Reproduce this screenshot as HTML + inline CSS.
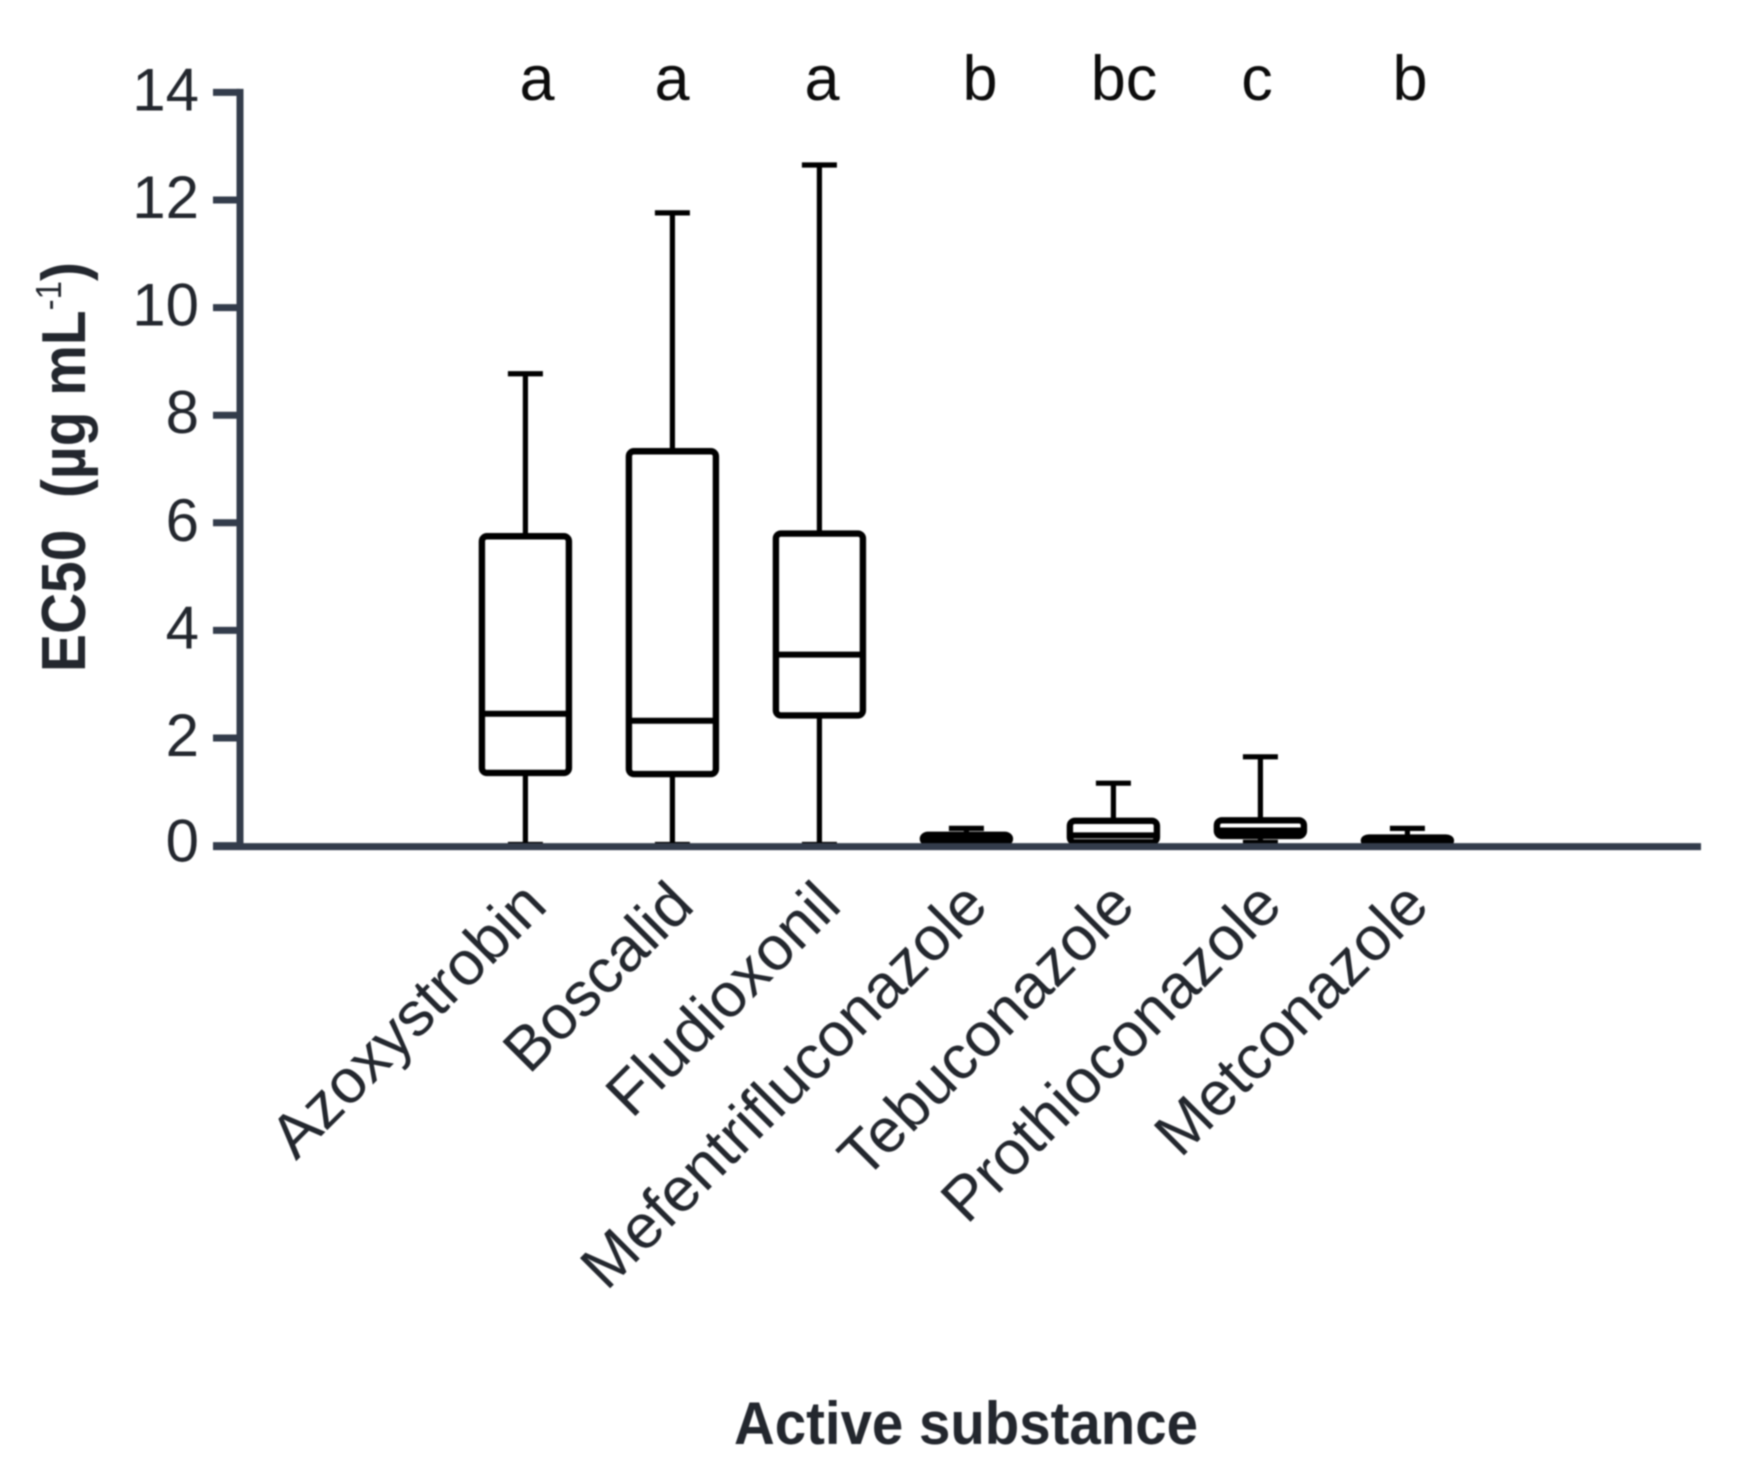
<!DOCTYPE html>
<html lang="en">
<head>
<meta charset="utf-8">
<title>EC50 by active substance</title>
<style>
html,body{margin:0;padding:0;background:#fff;width:1751px;height:1483px;overflow:hidden}
svg{display:block;filter:blur(.7px)}
text{font-family:"Liberation Sans",sans-serif}
</style>
</head>
<body>
<svg id="chart" xmlns="http://www.w3.org/2000/svg" width="1751" height="1483" viewBox="0 0 1751 1483">
  <rect width="1751" height="1483" fill="#fff"/>
  <g id="boxes"></g>
  <g id="axes"></g>
  <g id="labels"></g>
  <g font-size="63" fill="#0c0c0c" text-anchor="middle">
    <text x="537" y="100">a</text>
    <text x="672" y="100">a</text>
    <text x="822" y="100">a</text>
    <text x="980" y="100">b</text>
    <text x="1124" y="100">bc</text>
    <text x="1257" y="100">c</text>
    <text x="1410" y="100">b</text>
  </g>
  <text transform="translate(85,672) rotate(-90)" font-size="62" font-weight="700" fill="#23272e" textLength="410" lengthAdjust="spacingAndGlyphs">EC50&#160;&#160;(µg mL<tspan font-size="36" font-weight="400" dy="-24">-1</tspan><tspan dy="24">)</tspan></text>
  <text x="734" y="1444" font-size="60" font-weight="700" fill="#23272e" textLength="464" lengthAdjust="spacingAndGlyphs">Active substance</text>
</svg>
<script>
const categories = ["Azoxystrobin","Boscalid","Fludioxonil","Mefentrifluconazole","Tebuconazole","Prothioconazole","Metconazole"];
const whiskerLow = [0.02,0.02,0.02,0.02,0.03,0.06,0.01];
const quartile1 = [1.35,1.33,2.42,0.05,0.06,0.18,0.03];
const medians = [2.45,2.32,3.55,0.10,0.19,0.28,0.08];
const quartile3 = [5.75,7.33,5.80,0.20,0.46,0.47,0.15];
const whiskerHigh = [8.77,11.76,12.65,0.32,1.16,1.65,0.32];
const yTicks = [0,2,4,6,8,10,12,14];

const NS = 'http://www.w3.org/2000/svg';
function y(v){ return 845.6 - v * (845.6 - 92.4) / 14; }
function x(i){ return 525.4 + i * 147; }
function make(tag, attrs, parent){
  const el = document.createElementNS(NS, tag);
  for (const k in attrs) el.setAttribute(k, attrs[k]);
  parent.appendChild(el);
  return el;
}
const boxes = document.getElementById('boxes');
const axes = document.getElementById('axes');
const labels = document.getElementById('labels');

categories.forEach(function(name, i){
  const cx = x(i);
  const g = make('g', {fill:'none', stroke:'#000'}, boxes);
  
  

  const upper = make('line', {x1:cx, x2:cx, y1:y(quartile3[i]), y2:y(whiskerHigh[i]), 'stroke-width':5.2}, g);
  
  

  const lower = make('line', {x1:cx, x2:cx, y1:y(quartile1[i]), y2:y(whiskerLow[i]), 'stroke-width':5.2}, g);
  
  

  const capHigh = make('line', {x1:cx-17.5, x2:cx+17.5, y1:y(whiskerHigh[i]), y2:y(whiskerHigh[i]), 'stroke-width':5.2}, g);
  
  

  const capLow = make('line', {x1:cx-17.5, x2:cx+17.5, y1:y(whiskerLow[i]), y2:y(whiskerLow[i]), 'stroke-width':5.2}, g);
  
  

  const box = make('rect', {x:cx-43.5, width:87, y:y(quartile3[i]), height:y(quartile1[i])-y(quartile3[i]), rx:5, ry:5, fill:'#fff', 'stroke-width':6.4}, g);
  
  

  const med = make('line', {x1:cx-43.5, x2:cx+43.5, y1:y(medians[i]), y2:y(medians[i]), 'stroke-width':6}, g);
  
  

  const t = make('text', {transform:'translate(' + (cx + 24) + ',908) rotate(-45) scale(1.01,1)', 'text-anchor':'end', 'font-size':62, fill:'#23272e'}, labels);
  t.textContent = name;
  
  
});

const yAxis = make('line', {x1:240, x2:240, y1:y(14)-3.5, y2:y(0), stroke:'#333c4b', 'stroke-width':7}, axes);



const xAxis = make('line', {x1:213, x2:1701, y1:y(0)+1, y2:y(0)+1, stroke:'#333c4b', 'stroke-width':7}, axes);



yTicks.forEach(function(v){
  const tick = make('line', {x1:213, x2:240, y1:y(v), y2:y(v), stroke:'#333c4b', 'stroke-width':7}, axes);
  
  

  const t = make('text', {x:199, y:y(v) + (v === 0 ? 16 : 18), 'text-anchor':'end', 'font-size':60, fill:'#23272e'}, labels);
  t.textContent = String(v);
  
  
});
</script>
</body>
</html>
